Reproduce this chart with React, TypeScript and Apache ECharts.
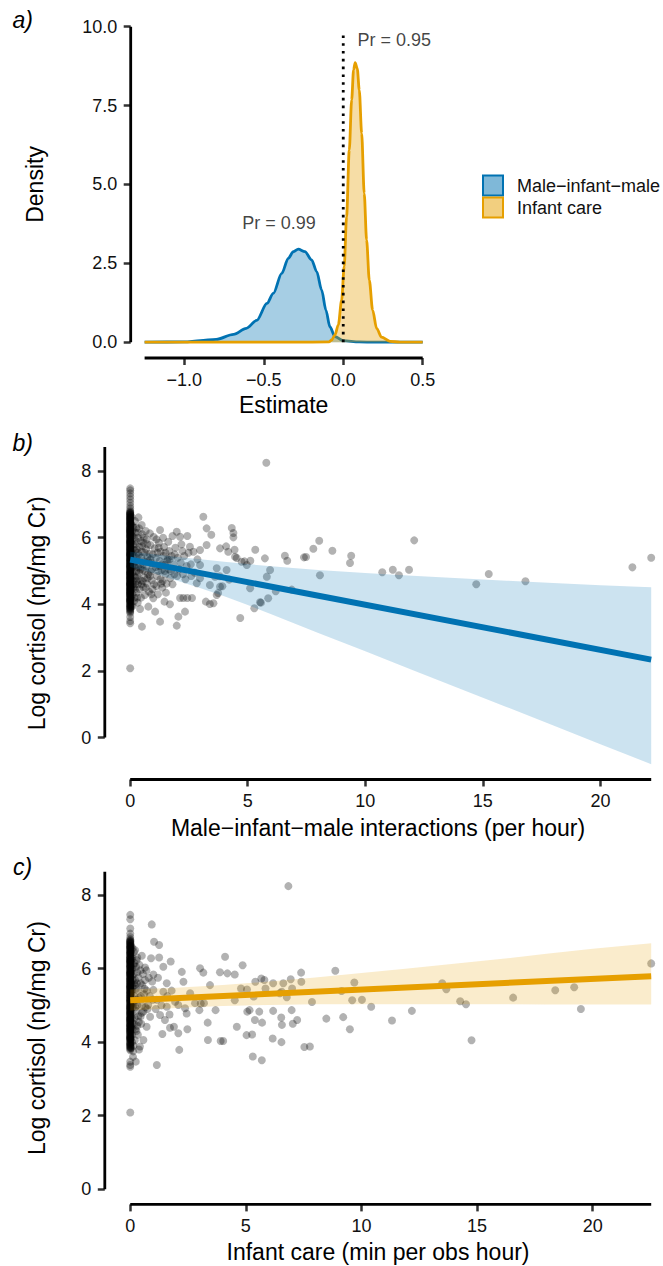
import React, { useEffect, useRef } from "react";
import * as echarts from "echarts";

const FONT = '"Liberation Sans", Arial, Helvetica, sans-serif';
const BLUE = "#0072B2";
const ORANGE = "#E69F00";
const POINT = "rgba(0,0,0,0.3)";
const TXT = "#111";

// ---------- panel a: posterior densities ----------
const mimName = "Male\u2212infant\u2212male";
const careName = "Infant care";
const mimDensX = [-1.25, -1.0, -0.9, -0.8, -0.69, -0.61, -0.545, -0.48, -0.44, -0.387, -0.346, -0.314, -0.283, -0.241, -0.199, -0.167, -0.136, -0.109, -0.084, -0.052, 0, 0.1, 0.2, 0.5];
const mimDensY = [0, 0.01, 0.05, 0.09, 0.25, 0.44, 0.69, 1.23, 1.55, 2.18, 2.66, 2.87, 2.95, 2.87, 2.61, 2.24, 1.66, 1.02, 0.49, 0.18, 0.05, 0.01, 0, 0];
const careDensX = [-1.25, -0.3, -0.09, -0.073, -0.052, -0.031, -0.01, 0.006, 0.021, 0.038, 0.053, 0.065, 0.075, 0.088, 0.101, 0.116, 0.132, 0.147, 0.164, 0.185, 0.21, 0.241, 0.294, 0.357, 0.5];
const careDensY = [0, 0, 0.01, 0.07, 0.23, 0.55, 1.34, 2.4, 3.98, 6.09, 7.68, 8.63, 8.86, 8.68, 7.99, 6.62, 4.72, 3.24, 1.97, 1.02, 0.44, 0.16, 0.03, 0, 0];
const estimateTicks = [-1, -0.5, 0, 0.5];
const densityTicks = [0, 2.5, 5, 7.5, 10];
const zeroLine = [[0, 0], [0, 9.85]];
const prLabels = [
  { name: "Pr = 0.99", value: [-0.404, 3.78] },
  { name: "Pr = 0.95", value: [0.321, 9.58] },
];

// ---------- shared cortisol values at x = 0 (dense column) ----------
const zeroDenseY = [6.8, 6.77, 6.75, 6.71, 6.69, 6.66, 6.62, 6.6, 6.57, 6.53, 6.51, 6.48, 6.44, 6.42, 6.39, 6.35, 6.33, 6.3, 6.27, 6.24, 6.21, 6.19, 6.15, 6.13, 6.1, 6.06, 6.04, 6.01, 5.97, 5.95, 5.92, 5.89, 5.86, 5.83, 5.8, 5.78, 5.74, 5.72, 5.69, 5.66, 5.63, 5.6, 5.57, 5.55, 5.51, 5.49, 5.46, 5.43, 5.4, 5.37, 5.35, 5.31, 5.29, 5.26, 5.23, 5.2, 5.17, 5.14, 5.12, 5.08, 5.06, 5.03, 5.0, 4.97, 4.94, 4.92, 4.88, 4.86, 4.83, 4.8, 4.77, 4.74, 4.72, 4.68, 4.66, 4.63, 4.6, 4.57, 4.54, 4.52, 4.48, 4.46, 4.43, 4.4, 4.37, 4.34, 4.31, 4.28, 4.25, 4.22, 4.19, 4.16, 4.12, 4.09, 4.05, 4.02, 3.98, 3.94, 3.9, 3.86, 3.81];
const zeroDenseY2 = [6.72, 6.64, 6.55, 6.46, 6.37, 6.29, 6.2, 6.11, 6.03, 5.94, 5.86, 5.77, 5.68, 5.59, 5.52, 5.44, 5.34, 5.25, 5.16, 5.09, 4.99, 4.9, 4.81, 4.73, 4.64, 4.55, 4.45, 4.36, 4.27, 4.18, 4.08, 3.99, 3.92, 6.58, 6.4, 6.22, 6.05, 5.88, 5.7, 5.53, 5.36, 5.18, 5.01, 4.84, 4.67, 4.5, 4.33, 4.15];
const zeroDenseY3 = [6.68, 6.5, 6.31, 6.16, 5.99, 5.82, 5.65, 5.48, 5.32, 5.13, 4.96, 4.79, 4.62, 4.47, 4.3, 4.13, 3.96, 3.84, 6.74, 6.43, 6.26, 6.08, 5.9, 5.75, 5.61, 5.42, 5.27, 5.1, 4.93, 4.76, 4.58, 4.41, 4.24, 4.07, 3.88, 3.78, 6.6, 6.18, 5.85, 5.5, 5.22, 4.9, 4.6, 4.38, 4.11];

// ---------- panel b: male-infant-male interactions ----------
const mimZeroSparseY = [7.48, 7.42, 7.33, 7.24, 7.15, 7.05, 6.95, 6.88, 3.74, 3.62, 3.5, 3.43, 2.08];
const mimPoints = [
  [0.06, 6.62], [0.1, 6.35], [0.08, 6.05], [0.12, 5.8], [0.07, 5.5], [0.15, 5.25], [0.09, 4.95], [0.13, 4.7], [0.06, 4.45], [0.18, 4.2], [0.11, 3.95],
  [0.2, 6.5], [0.22, 6.15], [0.25, 5.9], [0.2, 5.62], [0.28, 5.4], [0.24, 5.1], [0.3, 4.85], [0.22, 4.6], [0.27, 4.35], [0.32, 4.05],
  [0.35, 6.61], [0.38, 6.28], [0.33, 6.0], [0.4, 5.72], [0.36, 5.48], [0.42, 5.2], [0.38, 4.95], [0.44, 4.72], [0.4, 4.45], [0.46, 4.2], [0.42, 3.86],
  [0.49, 6.38], [0.52, 6.1], [0.56, 5.85], [0.5, 5.58], [0.58, 5.3], [0.54, 5.02], [0.6, 4.8], [0.55, 4.52], [0.62, 4.28], [0.5, 3.33],
  [0.66, 6.2], [0.7, 5.95], [0.68, 5.65], [0.74, 5.42], [0.7, 5.15], [0.76, 4.9], [0.72, 4.62], [0.77, 3.93], [0.8, 4.38],
  [0.84, 6.13], [0.86, 5.78], [0.82, 5.52], [0.9, 5.25], [0.88, 4.98], [0.92, 4.72], [0.95, 4.45], [0.98, 4.18], [1.0, 6.02], [1.04, 5.68], [1.06, 3.78],
  [1.1, 5.4], [1.08, 5.12], [1.14, 4.85], [1.12, 4.55], [1.18, 4.3], [1.27, 6.23], [1.22, 5.85], [1.3, 5.58], [1.25, 5.3], [1.33, 5.02], [1.28, 4.75], [1.36, 4.5], [1.27, 3.48],
  [1.4, 6.0], [1.44, 5.72], [1.42, 5.45], [1.48, 5.18], [1.46, 4.08], [1.5, 4.9], [1.55, 4.62], [1.62, 5.88], [1.6, 5.35], [1.66, 5.6], [1.64, 5.05], [1.69, 4.0], [1.7, 4.78],
  [1.76, 5.45], [1.8, 6.05], [1.84, 5.2], [1.88, 4.9], [1.92, 5.7], [1.98, 6.18], [1.98, 3.36], [2.05, 3.63], [2.02, 5.4], [2.08, 5.05], [2.12, 6.03], [2.12, 4.19],
  [2.18, 5.8], [2.26, 4.19], [2.3, 5.45], [2.33, 3.78], [2.35, 4.75], [2.43, 6.05], [2.43, 4.19], [2.48, 5.55], [2.54, 5.73], [2.58, 5.2], [2.63, 4.19], [2.69, 5.58],
  [2.75, 4.95], [2.83, 4.63], [2.86, 5.35], [2.97, 5.63], [2.97, 5.18], [2.97, 4.78],
  [3.11, 6.63], [3.25, 6.28], [3.25, 5.78], [3.22, 4.08], [3.39, 4.01], [3.39, 4.58], [3.45, 6.09], [3.54, 4.03], [3.61, 4.83], [3.68, 5.08], [3.68, 4.28], [3.74, 4.34],
  [3.82, 5.68], [3.82, 4.53], [3.81, 4.84], [3.92, 4.54], [4.08, 5.74], [4.1, 5.03], [4.17, 5.58], [4.21, 4.74], [4.32, 6.29], [4.39, 6.01], [4.39, 6.14], [4.44, 5.64],
  [4.46, 5.43], [4.53, 5.39], [4.68, 3.59], [4.74, 5.28], [4.86, 5.29], [4.96, 5.18], [5.1, 4.48], [5.11, 5.31], [5.28, 3.88], [5.32, 5.64], [5.52, 4.06], [5.56, 4.05],
  [5.73, 5.38], [5.81, 4.83], [5.87, 4.18], [5.95, 5.03], [5.79, 8.25], [6.19, 4.39], [6.58, 5.46], [6.68, 5.31], [6.87, 4.44], [7.39, 5.41], [7.48, 5.42], [7.79, 5.67],
  [8.04, 5.91], [8.07, 4.87], [8.6, 5.61], [9.35, 5.24], [9.4, 5.46], [10.72, 4.96], [11.17, 5.04], [11.43, 4.87], [11.86, 5.04], [12.08, 5.92], [14.72, 4.6],
  [15.25, 4.91], [16.81, 4.69], [21.36, 5.11], [22.16, 5.4],
  [0.04, 6.4], [0.05, 6.1], [0.04, 5.85], [0.05, 5.6], [0.04, 5.3], [0.05, 5.05], [0.04, 4.75], [0.05, 4.5], [0.04, 4.2], [0.05, 3.95], [0.14, 6.3], [0.16, 6.0],
  [0.15, 5.45], [0.17, 5.15], [0.16, 4.85], [0.15, 4.5], [0.17, 4.1], [0.26, 6.3], [0.28, 5.65], [0.27, 5.0], [0.29, 4.7], [0.3, 4.2], [0.45, 5.9], [0.47, 5.4],
  [0.44, 5.05], [0.48, 4.6], [0.62, 5.55], [0.64, 5.0], [0.66, 4.5], [0.86, 5.35], [0.84, 4.85], [0.9, 4.3], [1.12, 5.95], [1.16, 5.55], [1.2, 5.0], [1.35, 5.2],
  [1.38, 4.7], [1.56, 5.3], [1.52, 4.35], [1.74, 5.0], [1.8, 4.6], [2.15, 5.25], [2.25, 4.9],
  [0.09, 6.2], [0.11, 5.65], [0.1, 5.15], [0.12, 4.6], [0.1, 4.3], [0.21, 5.8], [0.19, 5.3], [0.23, 4.8], [0.21, 4.45], [0.34, 6.15], [0.31, 5.55], [0.35, 5.1],
  [0.33, 4.6], [0.52, 5.75], [0.55, 5.2], [0.53, 4.7], [0.58, 6.0], [0.73, 5.8], [0.77, 5.3], [0.74, 4.78], [0.96, 5.5], [0.93, 5.05], [1.02, 4.6], [1.21, 5.7],
  [1.24, 5.15], [1.32, 4.62], [1.5, 5.55], [1.47, 5.0], [1.68, 5.35], [1.9, 5.5], [2.0, 4.85], [2.22, 5.6], [2.4, 5.15], [2.6, 4.85],
];
const mimFit = [[0, 5.34], [22.16, 2.34]];
const mimBandX = [0, 1, 2, 3, 4, 5, 6, 8, 10, 12, 14, 16, 18, 20, 22.16];
const mimBandHi = [5.58, 5.5, 5.42, 5.35, 5.28, 5.21, 5.14, 5.03, 4.94, 4.86, 4.78, 4.71, 4.64, 4.57, 4.51];
const mimBandLo = [5.12, 4.93, 4.71, 4.48, 4.24, 3.98, 3.7, 3.14, 2.59, 2.03, 1.47, 0.92, 0.36, -0.2, -0.8];
const rateTicksB = [0, 5, 10, 15, 20];
const cortTicks = [0, 2, 4, 6, 8];

// ---------- panel c: infant care ----------
const careZeroSparseY = [7.46, 7.34, 7.09, 6.95, 6.86, 3.47, 3.38, 3.33, 2.09];
const carePoints = [
  [0.05, 6.6], [0.08, 6.3], [0.06, 6.0], [0.1, 5.7], [0.07, 5.4], [0.12, 5.1], [0.06, 4.8], [0.1, 4.5], [0.08, 4.2], [0.14, 3.9], [0.12, 3.6],
  [0.16, 6.45], [0.18, 6.15], [0.15, 5.85], [0.2, 5.55], [0.17, 5.25], [0.21, 5.69], [0.22, 4.95], [0.19, 4.65], [0.23, 4.35], [0.2, 4.05], [0.24, 3.47],
  [0.28, 6.23], [0.21, 6.5], [0.28, 5.15], [0.3, 5.9], [0.32, 5.4], [0.35, 4.7], [0.33, 4.2], [0.38, 3.8], [0.42, 3.88], [0.4, 6.1], [0.45, 5.6], [0.5, 5.0],
  [0.48, 4.5], [0.57, 4.83], [0.57, 4.06], [0.55, 5.85], [0.6, 5.3], [0.64, 6.03], [0.64, 5.69], [0.71, 4.42], [0.78, 5.01], [0.86, 4.69], [0.9, 6.28], [0.93, 7.2],
  [1.0, 5.84], [1.0, 5.42], [1.03, 6.73], [1.15, 3.38], [1.15, 5.15], [1.25, 6.64], [1.25, 6.3], [1.29, 4.74], [1.39, 4.22], [1.43, 6.05], [1.43, 5.37], [1.5, 4.6],
  [1.58, 5.6], [1.58, 4.96], [1.72, 4.39], [1.75, 6.19], [1.79, 5.4], [1.89, 4.42], [1.94, 5.1], [2.08, 5.01], [2.08, 4.24], [2.12, 3.79], [2.23, 5.91], [2.3, 5.64],
  [2.37, 4.92], [2.44, 4.78], [2.47, 4.35], [2.59, 5.33], [2.8, 5.06], [2.99, 4.87], [3.02, 6.01], [3.16, 5.89], [3.19, 5.06], [3.45, 5.55],
  [3.05, 5.05], [3.35, 4.53], [3.36, 4.06], [3.69, 4.87], [3.88, 5.9], [3.91, 4.03], [4.02, 4.03], [4.1, 6.32], [4.2, 5.87], [4.52, 5.84], [4.52, 5.14], [4.61, 4.42],
  [4.79, 5.46], [4.86, 6.09], [5.03, 4.19], [5.05, 5.43], [5.06, 4.83], [5.16, 4.87], [5.27, 4.21], [5.3, 3.61], [5.34, 5.24], [5.39, 4.6], [5.41, 5.64], [5.58, 4.83],
  [5.67, 5.73], [5.69, 3.51], [5.7, 4.53], [5.8, 5.69], [5.85, 5.46], [6.16, 4.1], [6.18, 5.6], [6.18, 4.85], [6.47, 5.33], [6.53, 4.67], [6.54, 4.0], [6.55, 5.37],
  [6.56, 4.47], [6.62, 5.6], [6.77, 5.22], [6.84, 8.24], [6.94, 5.71], [6.98, 4.87], [7.0, 5.46], [7.03, 4.5], [7.22, 4.6], [7.39, 5.89], [7.4, 5.64], [7.53, 3.87],
  [7.77, 3.88], [7.86, 5.09], [8.48, 4.64], [8.87, 5.94], [9.14, 5.39], [9.21, 4.68], [9.5, 4.35], [9.6, 5.14], [9.69, 5.62], [10.02, 5.15], [10.42, 4.96],
  [11.32, 4.59], [12.18, 4.85], [13.49, 5.6], [13.67, 5.44], [14.27, 5.11], [14.52, 5.03], [14.76, 4.05], [16.56, 5.21], [18.38, 5.41], [19.2, 5.49], [19.49, 4.9],
  [22.53, 6.14],
  [0.03, 6.45], [0.04, 6.15], [0.03, 5.9], [0.04, 5.6], [0.03, 5.35], [0.04, 5.0], [0.03, 4.7], [0.04, 4.4], [0.03, 4.1], [0.04, 3.85], [0.1, 6.55], [0.11, 6.0],
  [0.1, 5.5], [0.11, 4.95], [0.1, 4.35], [0.13, 3.75], [0.25, 6.05], [0.24, 5.45], [0.26, 4.85], [0.27, 4.3], [0.36, 5.75], [0.38, 5.2], [0.37, 4.55], [0.5, 6.35],
  [0.52, 5.55], [0.5, 4.8], [0.7, 5.95], [0.72, 5.4], [0.75, 4.9], [0.95, 5.65], [0.98, 5.15], [1.1, 4.9], [1.2, 5.75], [1.35, 5.0], [1.6, 5.25], [1.7, 4.75],
  [0.06, 6.25], [0.07, 5.8], [0.06, 5.25], [0.07, 4.65], [0.08, 4.0], [0.15, 6.1], [0.16, 5.6], [0.15, 5.05], [0.17, 4.5], [0.3, 6.3], [0.29, 5.6], [0.31, 5.0],
  [0.3, 4.45], [0.44, 5.95], [0.46, 5.25], [0.45, 4.7], [0.62, 5.45], [0.66, 4.95], [0.8, 5.75], [0.85, 5.25],
];
const careFit = [[0, 5.14], [22.53, 5.79]];
const careBandX = [0, 2, 4, 6, 8, 10, 12, 14, 16, 18, 20, 22.53];
const careBandHi = [5.43, 5.48, 5.55, 5.65, 5.76, 5.88, 6.0, 6.13, 6.26, 6.4, 6.54, 6.69];
const careBandLo = [4.86, 4.93, 4.98, 5.01, 5.03, 5.03, 5.03, 5.03, 5.03, 5.02, 5.02, 5.02];
const rateTicksC = [0, 5, 10, 15, 20];

// ---------- axis ranges (panel extents incl. ggplot expansion) ----------
const A = { xMin: -1.3375, xMax: 0.5875, yMin: -0.5, yMax: 10.5, xLine: [-1.25, 0.5], yLine: [0, 10] };
const B = { xMin: -1.08, xMax: 22.16, yMin: -1.26, yMax: 8.72 };
const C = { xMin: -1.1, xMax: 22.53, yMin: -0.41, yMax: 8.63 };

const minusFmt = (v: number, d: number) => (v < 0 ? "\u2212" : "") + Math.abs(v).toFixed(d);

function xAxisCfg(gridIndex: number, min: number, max: number, ticks: number[], fmt: (v: number) => string, name: string, nameGap: number) {
  return {
    type: "value", gridIndex, min, max,
    splitLine: { show: false },
    axisLine: { show: false, onZero: false },
    axisTick: { show: true, customValues: ticks, length: 7, lineStyle: { color: "#333", width: 2.5 } },
    axisLabel: { customValues: ticks, formatter: fmt, fontSize: 18, color: TXT, fontFamily: FONT, margin: 12.5 },
    name, nameLocation: "middle", nameGap,
    nameTextStyle: { fontSize: 23, color: "#000", fontFamily: FONT },
  };
}
function yAxisCfg(gridIndex: number, min: number, max: number, ticks: number[], fmt: (v: number) => string, name: string, nameGap: number) {
  return {
    type: "value", gridIndex, min, max,
    splitLine: { show: false },
    axisLine: { show: false, onZero: false },
    axisTick: { show: true, customValues: ticks, length: 7, lineStyle: { color: "#333", width: 2.5 } },
    axisLabel: { customValues: ticks, formatter: fmt, fontSize: 18, color: TXT, fontFamily: FONT, margin: 13.5 },
    name, nameLocation: "middle", nameGap,
    nameTextStyle: { fontSize: 23, color: "#000", fontFamily: FONT },
  };
}
function axisLineSeries(idx: number, data: number[][]) {
  return {
    type: "line", xAxisIndex: idx, yAxisIndex: idx, data, symbol: "none", silent: true, clip: false, z: 10,
    lineStyle: { color: "#000", width: 2.8 },
  };
}
function bandSeries(idx: number, xs: number[], lo: number[], hi: number[], fill: string) {
  return {
    type: "custom", xAxisIndex: idx, yAxisIndex: idx, silent: true, z: 3, clip: false,
    data: [[xs[0], lo[0]]],
    renderItem: (_params: any, api: any) => {
      const pts: number[][] = [];
      for (let i = 0; i < xs.length; i++) pts.push(api.coord([xs[i], hi[i]]));
      for (let i = xs.length - 1; i >= 0; i--) pts.push(api.coord([xs[i], lo[i]]));
      return { type: "polygon", shape: { points: pts }, style: { fill } };
    },
  };
}
function scatterSeries(idx: number, pts: number[][]) {
  return {
    type: "scatter", xAxisIndex: idx, yAxisIndex: idx, data: pts, symbolSize: 8, silent: true, z: 2,
    itemStyle: { color: POINT, opacity: 1 }, large: false, progressive: 0,
  };
}

export default function App() {
  const ref = useRef<HTMLDivElement>(null);
  useEffect(() => {
    document.body.style.margin = "0";
    if (!ref.current) return;
    const chart = echarts.init(ref.current, null, { renderer: "svg" });
    const zip = (xs: number[], ys: number[]) => xs.map((x, i) => [x, ys[i]]);
    const zeroCol = [...zeroDenseY, ...zeroDenseY2, ...zeroDenseY3].map((y) => [0, y]);
    const mimAll = [...mimZeroSparseY.map((y) => [0, y]), ...zeroCol, ...mimPoints];
    const careAll = [...careZeroSparseY.map((y) => [0, y]), ...zeroCol, ...carePoints];

    const option: any = {
      animation: false,
      textStyle: { fontFamily: FONT },
      grid: [
        { left: 130.7, top: 10.9, width: 305.9, height: 347.1, outerBoundsMode: "none" },
        { left: 104.8, top: 447.1, width: 546.4, height: 332.4, outerBoundsMode: "none" },
        { left: 104.8, top: 871.8, width: 546.4, height: 332.6, outerBoundsMode: "none" },
      ],
      xAxis: [
        xAxisCfg(0, A.xMin, A.xMax, estimateTicks, (v) => minusFmt(v, 1), "Estimate", 35.5),
        xAxisCfg(1, B.xMin, B.xMax, rateTicksB, (v) => String(v), "Male\u2212infant\u2212male interactions (per hour)", 37),
        xAxisCfg(2, C.xMin, C.xMax, rateTicksC, (v) => String(v), "Infant care (min per obs hour)", 36),
      ],
      yAxis: [
        yAxisCfg(0, A.yMin, A.yMax, densityTicks, (v) => minusFmt(v, 1), "Density", 84),
        yAxisCfg(1, B.yMin, B.yMax, cortTicks, (v) => String(v), "Log cortisol (ng/mg Cr)", 56),
        yAxisCfg(2, C.yMin, C.yMax, cortTicks, (v) => String(v), "Log cortisol (ng/mg Cr)", 56),
      ],
      legend: {
        orient: "vertical", left: 482, top: 174.5, padding: 0, itemGap: 0,
        itemWidth: 20, itemHeight: 20, selectedMode: false,
        textStyle: { fontSize: 18, fontFamily: FONT, color: TXT, lineHeight: 22, padding: [0, 0, 0, 9] },
        data: [
          { name: mimName, icon: "rect", itemStyle: { color: "rgba(0,114,178,0.5)", borderColor: BLUE, borderWidth: 2 } },
          { name: careName, icon: "rect", itemStyle: { color: "rgba(230,159,0,0.5)", borderColor: ORANGE, borderWidth: 2 } },
        ],
      },
      graphic: [
        { type: "text", x: 12.5, y: 20, style: { text: "a)", fontSize: 23, fontStyle: "italic", fontFamily: FONT, fill: "#000", verticalAlign: "middle" } },
        { type: "text", x: 12.5, y: 443, style: { text: "b)", fontSize: 23, fontStyle: "italic", fontFamily: FONT, fill: "#000", verticalAlign: "middle" } },
        { type: "text", x: 13, y: 866.5, style: { text: "c)", fontSize: 23, fontStyle: "italic", fontFamily: FONT, fill: "#000", verticalAlign: "middle" } },
      ],
      series: [
        // panel a
        {
          name: mimName, type: "line", xAxisIndex: 0, yAxisIndex: 0, data: zip(mimDensX, mimDensY),
          smooth: 0.3, smoothMonotone: "x", symbol: "none", z: 2,
          lineStyle: { color: BLUE, width: 2.8 }, itemStyle: { color: BLUE },
          areaStyle: { color: "rgba(0,114,178,0.5)" },
        },
        {
          name: careName, type: "line", xAxisIndex: 0, yAxisIndex: 0, data: zip(careDensX, careDensY),
          smooth: 0.3, smoothMonotone: "x", symbol: "none", z: 3,
          lineStyle: { color: ORANGE, width: 2.8 }, itemStyle: { color: ORANGE },
          areaStyle: { color: "rgba(230,159,0,0.5)" },
        },
        {
          type: "line", xAxisIndex: 0, yAxisIndex: 0, data: zeroLine, symbol: "none", silent: true, z: 4,
          lineStyle: { color: "#000", width: 2.8, type: [2.6, 5.2] },
        },
        {
          type: "scatter", xAxisIndex: 0, yAxisIndex: 0, data: prLabels, symbolSize: 1, silent: true, z: 5,
          itemStyle: { color: "rgba(0,0,0,0)" },
          label: { show: true, position: "inside", formatter: "{b}", fontSize: 18, color: TXT, fontFamily: FONT },
        },
        axisLineSeries(0, [[A.xLine[0], A.yMin], [A.xLine[1], A.yMin]]),
        axisLineSeries(0, [[A.xMin, A.yLine[0]], [A.xMin, A.yLine[1]]]),
        // panel b
        scatterSeries(1, mimAll),
        bandSeries(1, mimBandX, mimBandLo, mimBandHi, "rgba(0,114,178,0.2)"),
        {
          type: "line", xAxisIndex: 1, yAxisIndex: 1, data: mimFit, symbol: "none", silent: true, z: 4,
          lineStyle: { color: BLUE, width: 6 },
        },
        axisLineSeries(1, [[0, B.yMin], [B.xMax, B.yMin]]),
        axisLineSeries(1, [[B.xMin, 0], [B.xMin, B.yMax]]),
        // panel c
        scatterSeries(2, careAll),
        bandSeries(2, careBandX, careBandLo, careBandHi, "rgba(230,159,0,0.2)"),
        {
          type: "line", xAxisIndex: 2, yAxisIndex: 2, data: careFit, symbol: "none", silent: true, z: 4,
          lineStyle: { color: ORANGE, width: 6 },
        },
        axisLineSeries(2, [[0, C.yMin], [C.xMax, C.yMin]]),
        axisLineSeries(2, [[C.xMin, 0], [C.xMin, C.yMax]]),
      ],
    };
    chart.setOption(option);
    return () => chart.dispose();
  }, []);
  return <div ref={ref} style={{ width: 663, height: 1266 }} />;
}
